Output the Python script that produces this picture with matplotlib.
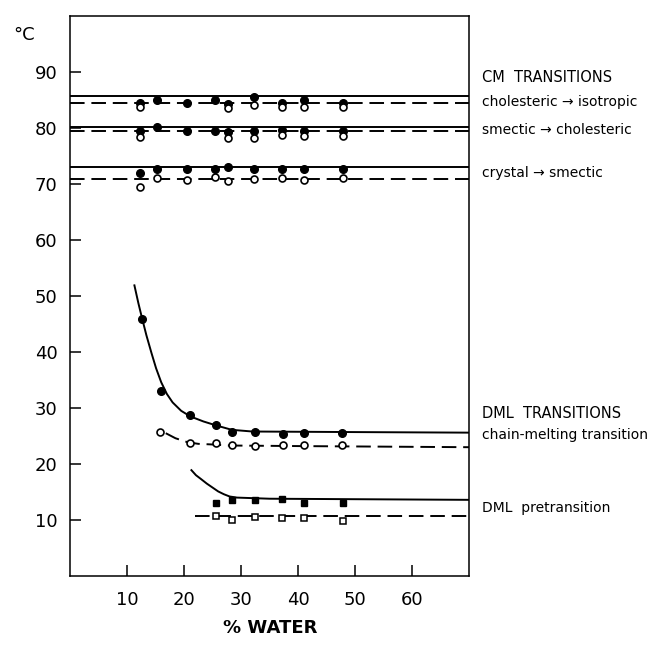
#imports
import matplotlib
matplotlib.use('Agg')
import matplotlib.pyplot as plt

#water content of the samples (%)
water = [12.3, 15.3, 20.6, 25.5, 27.8, 32.2, 37.2, 41.0, 47.9]
water_open = [12.3, 27.8, 32.2, 37.2, 41.0, 47.9]

#CM transitions, filled = solid line, open = dashed line
chol_iso_filled = [84.5, 85.0, 84.4, 85.0, 84.3, 85.6, 84.5, 85.0, 84.5]
chol_iso_open = [83.8, 83.5, 84.1, 83.7, 83.8, 83.8]
smec_chol_filled = [79.5, 80.2, 79.5, 79.5, 79.2, 79.5, 79.6, 79.5, 79.5]
smec_chol_open = [78.4, 78.2, 78.2, 78.8, 78.6, 78.6]
cryst_smec_filled = [71.9, 72.7, 72.7, 72.7, 73.1, 72.7, 72.7, 72.7, 72.7]
water_cs_open = [12.3, 15.3, 20.6, 25.5, 27.8, 32.2, 37.2, 41.0, 47.9]
cryst_smec_open = [69.5, 71.1, 70.8, 71.2, 70.5, 70.9, 71.1, 70.8, 71.1]

#horizontal lines of the CM transitions
cm_solid_levels = [85.7, 80.1, 73.1]
cm_dashed_levels = [84.5, 79.4, 70.9]

#DML chain melting
water_cm = [12.6, 16.0, 21.1, 25.6, 28.4, 32.5, 37.4, 41.1, 47.7]
chain_filled = [45.9, 33.0, 28.7, 26.9, 25.8, 25.8, 25.4, 25.6, 25.6]
water_cm_open = [15.8, 21.0, 25.6, 28.4, 32.5, 37.4, 41.1, 47.7]
chain_open = [25.7, 23.7, 23.8, 23.4, 23.2, 23.4, 23.4, 23.4]

#DML pretransition
water_pre = [25.6, 28.4, 32.5, 37.2, 41.0, 47.9]
pre_filled = [13.1, 13.5, 13.5, 13.8, 13.1, 13.1]
pre_open = [10.7, 10.0, 10.6, 10.3, 10.3, 9.9]

#hand drawn curves
chain_curve_x = [11.3, 12.0, 12.6, 13.4, 14.3, 15.1, 16.0, 17.0, 18.0, 19.5, 21.1, 23.4, 25.6, 28.4, 32.0, 50.0, 70.0]
chain_curve_y = [51.9, 48.7, 46.2, 43.0, 39.8, 37.1, 34.6, 32.5, 31.0, 29.5, 28.5, 27.6, 26.9, 26.1, 25.8, 25.7, 25.6]
chain_dash_x = [16.8, 18.5, 20.6, 22.5, 24.7, 28.0, 40.0, 70.0]
chain_dash_y = [25.5, 24.6, 23.9, 23.6, 23.5, 23.3, 23.2, 23.0]
pre_curve_x = [21.3, 22.1, 23.0, 24.0, 25.0, 26.0, 27.0, 28.0, 29.3, 35.0, 70.0]
pre_curve_y = [18.9, 18.0, 17.3, 16.5, 15.8, 15.1, 14.6, 14.2, 14.0, 13.8, 13.6]
pre_dash_x = [22.0, 70.0]
pre_dash_y = [10.8, 10.8]

#axis ticks
xticks = [10, 20, 30, 40, 50, 60]
yticks = [10, 20, 30, 40, 50, 60, 70, 80, 90]

#right hand labels
cm_labels = ['CM  TRANSITIONS', 'cholesteric \u2192 isotropic', 'smectic \u2192 cholesteric', 'crystal \u2192 smectic']
cm_label_y = [77, 102, 130, 173]
dml_labels = ['DML  TRANSITIONS', 'chain-melting transition', 'DML  pretransition']
dml_label_y = [413, 435, 508]

#style
lw = 1.4
dash = (7.5, 3.5)
filled = dict(marker='o', color='black', markersize=5.5, linestyle='none')
opened = dict(marker='o', markerfacecolor='white', markeredgecolor='black', markeredgewidth=1.2, markersize=5, linestyle='none')

fig = plt.figure(figsize=(6.51, 6.45), dpi=100)
ax = fig.add_axes([70/651, 1-576/645, 399/651, 560/645])
ax.set_xlim(0, 70)
ax.set_ylim(0, 100)

#CM lines
for lev in cm_solid_levels:
    ax.axhline(lev, color='black', lw=lw)
for lev in cm_dashed_levels:
    ax.axhline(lev, color='black', lw=lw, dashes=dash)

#CM points
ax.plot(water, chol_iso_filled, **filled)
ax.plot(water_open, chol_iso_open, **opened)
ax.plot(water, smec_chol_filled, **filled)
ax.plot(water_open, smec_chol_open, **opened)
ax.plot(water, cryst_smec_filled, **filled)
ax.plot(water_cs_open, cryst_smec_open, **opened)

#DML curves
ax.plot(chain_curve_x, chain_curve_y, color='black', lw=lw)
ax.plot(chain_dash_x, chain_dash_y, color='black', lw=lw, dashes=dash)
ax.plot(pre_curve_x, pre_curve_y, color='black', lw=lw)
ax.plot(pre_dash_x, pre_dash_y, color='black', lw=lw, dashes=dash)

#DML points
ax.plot(water_cm, chain_filled, **filled)
ax.plot(water_cm_open, chain_open, **opened)
ax.plot(water_pre, pre_filled, marker='s', color='black', markersize=5, linestyle='none')
ax.plot(water_pre, pre_open, marker='s', markerfacecolor='white', markeredgecolor='black',
        markeredgewidth=1.1, markersize=4.5, linestyle='none')

#axes look
for s in ax.spines.values():
    s.set_linewidth(1.1)
ax.set_xticks(xticks)
ax.set_yticks(yticks)
ax.tick_params(direction='in', length=8, width=1.1, labelsize=13, pad=9)
ax.tick_params(axis='x', pad=11)

#labels
fig.text(13/651, 1-35/645, '\u00b0C', fontsize=13, va='center', ha='left')
fig.text(270/651, 1-628/645, '% WATER', fontsize=13, fontweight='bold', va='center', ha='center')
for i, (t, yp) in enumerate(zip(cm_labels, cm_label_y)):
    fig.text(482/651, 1-yp/645, t, fontsize=10.5 if i == 0 else 10, va='center', ha='left')
for i, (t, yp) in enumerate(zip(dml_labels, dml_label_y)):
    fig.text(482/651, 1-yp/645, t, fontsize=10.5 if i == 0 else 10, va='center', ha='left')

fig.savefig('out.png', dpi=100)
